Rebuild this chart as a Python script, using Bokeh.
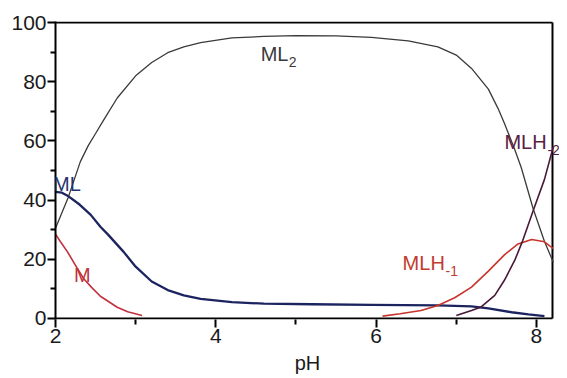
from bokeh.plotting import figure
from bokeh.models import Range1d, FixedTicker, Label
from bokeh.embed import file_html
from bokeh.resources import INLINE

# ---- data ----
ml2_ph = [2.0, 2.16, 2.31, 2.41, 2.5, 2.6, 2.77, 3.0, 3.2, 3.4, 3.6, 3.81, 4.2, 4.6, 5.0, 5.5,
          5.94, 6.4, 6.77, 7.0, 7.19, 7.4, 7.52, 7.6, 7.73, 7.81, 7.96, 8.1, 8.21]
ml2_val = [30.5, 41, 53, 58.5, 62.5, 67, 74.5, 82, 86.5, 89.8, 91.8, 93.2, 94.8, 95.3, 95.6, 95.5,
           95, 93.8, 91.8, 89, 84.5, 77.5, 71, 66, 57, 51, 37, 26, 19]

ml_ph = [2.0, 2.08, 2.15, 2.3, 2.44, 2.56, 2.65, 2.85, 3.0, 3.2, 3.4, 3.6, 3.81, 4.2, 4.6, 5.2,
         5.94, 6.77, 7.19, 7.4, 7.69, 7.9, 8.1]
ml_val = [42.8, 42.5, 41.5, 38.5, 35, 31, 28.5, 22.5, 17.5, 12.5, 9.6, 7.8, 6.6, 5.5, 5.0, 4.8,
          4.6, 4.4, 4.1, 3.4, 2.1, 1.4, 0.8]

m_ph = [2.0, 2.06, 2.15, 2.27, 2.35, 2.45, 2.56, 2.77, 2.9, 3.08]
m_val = [28.5, 26, 22.5, 17, 13.5, 10.5, 7.5, 3.8, 2.3, 1.0]

mlh1_ph = [6.08, 6.3, 6.56, 6.77, 6.98, 7.19, 7.4, 7.6, 7.77, 7.94, 8.1, 8.21]
mlh1_val = [0.8, 1.6, 2.7, 4.4, 7.0, 10.6, 16.0, 21.5, 25.2, 26.7, 25.9, 23.6]

mlh2_ph = [7.0, 7.19, 7.31, 7.48, 7.6, 7.73, 7.83, 7.96, 8.1, 8.21]
mlh2_val = [1.0, 2.7, 3.9, 7.8, 12.9, 19.7, 26.4, 36.5, 47, 58]

x_ticks = [2, 4, 6, 8]
x_minor = [3, 5, 7]
y_ticks = [0, 20, 40, 60, 80, 100]
y_minor = [10, 30, 50, 70, 90]

# axis box limits
x_lo, x_hi = 2.0, 8.2
y_lo, y_hi = 0, 100

# species labels: (main text, subscript, x, y, colour)
labels = [
    ("ML", "2", 4.56, 89.2, "#3a3a3a"),
    ("ML", "", 1.97, 45.5, "#26336f"),
    ("M", "", 2.23, 14.6, "#c0353d"),
    ("MLH", "-1", 6.33, 18.6, "#c23a2e"),
    ("MLH", "-2", 7.6, 59.6, "#5a1d46"),
]

FONT = "Liberation Sans"

# the frame runs to the canvas edge so that the MLH-2 label is not clipped;
# the box itself is drawn as lines at the axis limits
p = figure(width=559, height=370, output_backend="svg", toolbar_location=None,
           x_range=Range1d(x_lo, x_lo + 504 / 80.16), y_range=Range1d(y_lo - 0.35, y_hi + 0.35),
           frame_width=504, frame_height=298,
           min_border_left=55, min_border_right=0, min_border_top=21, min_border_bottom=51)
p.xgrid.visible = False
p.ygrid.visible = False
p.outline_line_color = None
p.background_fill_color = "white"
p.border_fill_color = "white"

p.xaxis.ticker = FixedTicker(ticks=x_ticks, minor_ticks=x_minor)
p.yaxis.ticker = FixedTicker(ticks=y_ticks, minor_ticks=y_minor)
for ax in (p.xaxis[0], p.yaxis[0]):
    ax.axis_line_width = 2
    ax.axis_line_color = "black"
    ax.major_tick_line_width = 2
    ax.minor_tick_line_width = 2
    ax.major_tick_out = 8
    ax.major_tick_in = 0
    ax.minor_tick_out = 5
    ax.minor_tick_in = 0
    ax.major_label_text_font = FONT
    ax.major_label_text_font_size = "21px"
    ax.major_label_text_color = "#1a1a1a"
    ax.major_label_standoff = 1
p.xaxis.axis_line_color = None
p.xaxis.axis_label = "pH"
p.xaxis.axis_label_text_font = FONT
p.xaxis.axis_label_text_font_size = "20px"
p.xaxis.axis_label_text_font_style = "normal"
p.xaxis.axis_label_text_color = "#1a1a1a"
p.xaxis.axis_label_standoff = 6

# box: bottom, top, right
p.line([x_lo, x_hi], [y_lo, y_lo], line_color="black", line_width=2)
p.line([x_lo, x_hi], [y_hi, y_hi], line_color="black", line_width=2)
p.line([x_hi, x_hi], [y_lo, y_hi], line_color="black", line_width=2)

p.line(ml2_ph, ml2_val, line_color="#3a3a3a", line_width=1.3)
p.line(ml_ph, ml_val, line_color="#1c2460", line_width=2.3)
p.line(m_ph, m_val, line_color="#c0303f", line_width=1.6)
p.line(mlh1_ph, mlh1_val, line_color="#c8352c", line_width=1.6)
p.line(mlh2_ph, mlh2_val, line_color="#4a1838", line_width=1.6)

for main, sub, lx, ly, col in labels:
    lab = Label(x=lx, y=ly, text=main, text_font=FONT, text_font_size="20px",
                text_color=col, text_baseline="alphabetic", text_align="left")
    p.add_layout(lab)
    if sub:
        w = {"ML": 28, "MLH": 43}[main]
        p.add_layout(Label(x=lx, y=ly, x_offset=w, y_offset=-8, text=sub, text_font=FONT,
                           text_font_size="14px", text_color=col,
                           text_baseline="alphabetic", text_align="left"))

open("out.html", "w").write(file_html(p, INLINE))
